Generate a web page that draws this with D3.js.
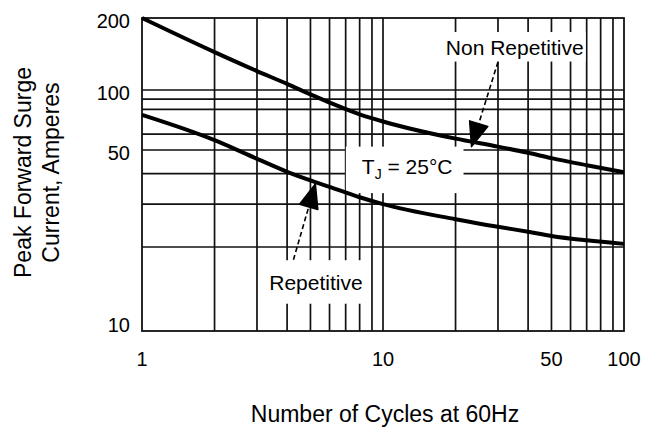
<!DOCTYPE html>
<html>
<head>
<meta charset="utf-8">
<script src="https://cdn.jsdelivr.net/npm/d3@7"></script>
<style>
  body { margin: 0; background: #fff; }
  svg text { font-family: "Liberation Sans", Arial, sans-serif; fill: #000; }
</style>
</head>
<body>
<svg id="surgeChart" width="655" height="430"></svg>
<script>
// surge current vs number of cycles, log-log

// values
const cycles = [1, 2, 3, 4, 5, 6, 8, 10, 20, 30, 40, 50, 70, 100];
const nonRepetitive = [200, 144, 120, 106, 95, 86.5, 75.5, 69.5, 57, 52, 48.7, 46.3, 43.3, 40.5];
const repetitive = [75, 56, 46, 40.7, 37.5, 35.3, 32, 30, 26, 24.2, 23.1, 22.2, 21.3, 20.6];

const xGrid = [2, 3, 4, 5, 6, 7, 8, 9, 10, 20, 30, 40, 50, 60, 70, 80, 90];
const yGrid = [20, 30, 40, 50, 60, 80, 90, 100];
const xTicks = [1, 10, 50, 100];
const yTicks = [10, 50, 100, 200];

const svg = d3.select('#surgeChart');

const plotLeft = 142, plotRight = 624, plotTop = 18, plotBottom = 331;

// x is a clean log axis
const xScale = d3.scaleLog()
    .domain([1, 100])
    .range([plotLeft, plotRight]);

// the printed y grid is not evenly spaced, so use a piecewise log scale
const yScale = d3.scaleLog()
    .domain([10, 20, 50, 100, 200])
    .range([plotBottom, 247, 150, 90, plotTop]);

const ink = '#111';

//grid lines
const grid = svg.append('g');
grid.selectAll('.vgrid')
    .data(xGrid)
    .enter()
    .append('line')
        .attr('x1', d => xScale(d))
        .attr('x2', d => xScale(d))
        .attr('y1', plotTop)
        .attr('y2', plotBottom)
        .attr('stroke', ink)
        .attr('stroke-width', 1.7);

grid.selectAll('.hgrid')
    .data(yGrid)
    .enter()
    .append('line')
        .attr('x1', plotLeft)
        .attr('x2', plotRight)
        .attr('y1', d => yScale(d))
        .attr('y2', d => yScale(d))
        .attr('stroke', ink)
        .attr('stroke-width', 1.7);

//frame
svg.append('rect')
    .attr('x', plotLeft)
    .attr('y', plotTop)
    .attr('width', plotRight - plotLeft)
    .attr('height', plotBottom - plotTop)
    .attr('fill', 'none')
    .attr('stroke', ink)
    .attr('stroke-width', 1.8);

//labels inside the plot sit on white boxes that cut the grid
const labels = [
    {text: 'Non Repetitive', x: 35.2, y: 140, pad: [3, 4, 2, 2.5]},
    {text: 'T', sub: 'J', rest: ' = 25°C', x: 12.6, y: 40, pad: [16, 8, 11, 11.5]},
    {text: 'Repetitive', x: 5.27, y: 14, pad: [7, 11, 4, 9.5]}
];

const boxLayer = svg.append('g');
const textLayer = svg.append('g');

labels.forEach(l => {
    const t = textLayer.append('text')
        .attr('x', xScale(l.x))
        .attr('y', yScale(l.y))
        .attr('text-anchor', 'middle')
        .attr('font-size', '21px');
    t.append('tspan').text(l.text);
    if (l.sub) {
        t.append('tspan').attr('font-size', '14px').attr('dy', 5).text(l.sub);
        t.append('tspan').attr('dy', -5).text(l.rest);
    }
    const b = t.node().getBBox();
    boxLayer.append('rect')
        .attr('x', b.x - l.pad[0])
        .attr('y', b.y - l.pad[1])
        .attr('width', b.width + l.pad[0] + l.pad[2])
        .attr('height', b.height + l.pad[1] + l.pad[3])
        .attr('fill', '#fff');
});

//the two curves
const line = d3.line()
    .x(d => xScale(d[0]))
    .y(d => yScale(d[1]))
    .curve(d3.curveMonotoneX);

[nonRepetitive, repetitive].forEach(series => {
    svg.append('path')
        .datum(cycles.map((c, i) => [c, series[i]]))
        .attr('fill', 'none')
        .attr('stroke', '#000')
        .attr('stroke-width', 4)
        .attr('stroke-linejoin', 'round')
        .attr('d', line);
});

textLayer.raise();

//dashed leader arrows
const arrows = [
    {from: [30, 131], to: [23.3, 52]},
    {from: [4.25, 18], to: [5.24, 36.3]}
];

arrows.forEach(a => {
    const x0 = xScale(a.from[0]), y0 = yScale(a.from[1]);
    const x1 = xScale(a.to[0]), y1 = yScale(a.to[1]);
    const len = Math.hypot(x1 - x0, y1 - y0);
    const ux = (x1 - x0) / len, uy = (y1 - y0) / len;
    const headLen = 24, headW = 9.5;
    const bx = x1 - ux * headLen, by = y1 - uy * headLen;

    svg.append('line')
        .attr('x1', x0).attr('y1', y0)
        .attr('x2', bx).attr('y2', by)
        .attr('stroke', '#000')
        .attr('stroke-width', 1.6)
        .attr('stroke-dasharray', '5,3');

    svg.append('path')
        .attr('d', `M${x1},${y1}L${bx - uy * headW},${by + ux * headW}L${bx + uy * headW},${by - ux * headW}Z`)
        .attr('fill', '#000')
        .attr('stroke', '#000')
        .attr('stroke-width', 1.5)
        .attr('stroke-linejoin', 'round');
});

//tick labels
svg.selectAll('.xtick')
    .data(xTicks)
    .enter()
    .append('text')
        .attr('x', d => xScale(d))
        .attr('y', 366)
        .attr('text-anchor', 'middle')
        .attr('font-size', '20px')
        .text(d => d);

svg.selectAll('.ytick')
    .data(yTicks)
    .enter()
    .append('text')
        .attr('x', 130)
        .attr('y', d => yScale(d) + (d === 10 ? 1 : 10))
        .attr('text-anchor', 'end')
        .attr('font-size', '20px')
        .text(d => d);

//axis titles
svg.append('text')
    .attr('x', 385)
    .attr('y', 422)
    .attr('text-anchor', 'middle')
    .attr('font-size', '23px')
    .text('Number of Cycles at 60Hz');

svg.append('text')
    .attr('transform', 'rotate(-90)')
    .attr('x', -172.5)
    .attr('y', 31)
    .attr('text-anchor', 'middle')
    .attr('font-size', '23px')
    .text('Peak Forward Surge');

svg.append('text')
    .attr('transform', 'rotate(-90)')
    .attr('x', -172.5)
    .attr('y', 59)
    .attr('text-anchor', 'middle')
    .attr('font-size', '23px')
    .text('Current, Amperes');
</script>
</body>
</html>
